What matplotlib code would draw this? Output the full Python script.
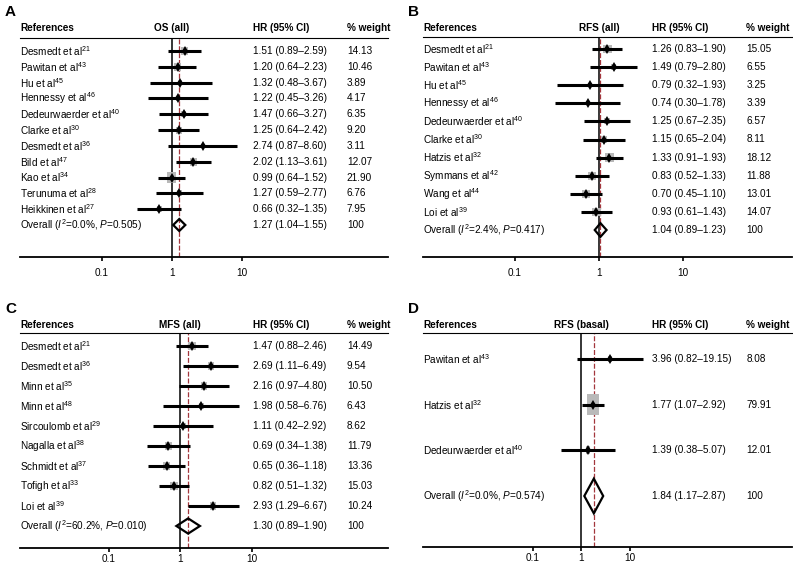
import matplotlib
matplotlib.use("Agg")
import matplotlib.pyplot as plt
import matplotlib.transforms as mtransforms
from matplotlib.patches import Rectangle, Polygon
import numpy as np

plt.rcParams["font.family"] = ["Liberation Sans", "DejaVu Sans"]
plt.rcParams["mathtext.fontset"] = "custom"
plt.rcParams["mathtext.rm"] = "Liberation Sans"
plt.rcParams["mathtext.it"] = "Liberation Sans:italic"
plt.rcParams["mathtext.bf"] = "Liberation Sans:bold"

# ---- data ----
# A: OS (all)
os_authors = ["Desmedt", "Pawitan", "Hu", "Hennessy", "Dedeurwaerder", "Clarke",
              "Desmedt", "Bild", "Kao", "Terunuma", "Heikkinen"]
os_refs = ["21", "43", "45", "46", "40", "30", "36", "47", "34", "28", "27"]
os_hr = [1.51, 1.20, 1.32, 1.22, 1.47, 1.25, 2.74, 2.02, 0.99, 1.27, 0.66]
os_lo = [0.89, 0.64, 0.48, 0.45, 0.66, 0.64, 0.87, 1.13, 0.64, 0.59, 0.32]
os_hi = [2.59, 2.23, 3.67, 3.26, 3.27, 2.42, 8.60, 3.61, 1.52, 2.77, 1.35]
os_w = [14.13, 10.46, 3.89, 4.17, 6.35, 9.20, 3.11, 12.07, 21.90, 6.76, 7.95]
os_overall = (1.27, 1.04, 1.55, "0.0", "0.505")

# B: RFS (all)
rfs_authors = ["Desmedt", "Pawitan", "Hu", "Hennessy", "Dedeurwaerder", "Clarke",
               "Hatzis", "Symmans", "Wang", "Loi"]
rfs_refs = ["21", "43", "45", "46", "40", "30", "32", "42", "44", "39"]
rfs_hr = [1.26, 1.49, 0.79, 0.74, 1.25, 1.15, 1.33, 0.83, 0.70, 0.93]
rfs_lo = [0.83, 0.79, 0.32, 0.30, 0.67, 0.65, 0.91, 0.52, 0.45, 0.61]
rfs_hi = [1.90, 2.80, 1.93, 1.78, 2.35, 2.04, 1.93, 1.33, 1.10, 1.43]
rfs_w = [15.05, 6.55, 3.25, 3.39, 6.57, 8.11, 18.12, 11.88, 13.01, 14.07]
rfs_overall = (1.04, 0.89, 1.23, "2.4", "0.417")

# C: MFS (all)
mfs_authors = ["Desmedt", "Desmedt", "Minn", "Minn", "Sircoulomb", "Nagalla",
               "Schmidt", "Tofigh", "Loi"]
mfs_refs = ["21", "36", "35", "48", "29", "38", "37", "33", "39"]
mfs_hr = [1.47, 2.69, 2.16, 1.98, 1.11, 0.69, 0.65, 0.82, 2.93]
mfs_lo = [0.88, 1.11, 0.97, 0.58, 0.42, 0.34, 0.36, 0.51, 1.29]
mfs_hi = [2.46, 6.49, 4.80, 6.76, 2.92, 1.38, 1.18, 1.32, 6.67]
mfs_w = [14.49, 9.54, 10.50, 6.43, 8.62, 11.79, 13.36, 15.03, 10.24]
mfs_overall = (1.30, 0.89, 1.90, "60.2", "0.010")

# D: RFS (basal)
basal_authors = ["Pawitan", "Hatzis", "Dedeurwaerder"]
basal_refs = ["43", "32", "40"]
basal_hr = [3.96, 1.77, 1.39]
basal_lo = [0.82, 1.07, 0.38]
basal_hi = [19.15, 2.92, 5.07]
basal_w = [8.08, 79.91, 12.01]
basal_overall = (1.84, 1.17, 2.87, "0.0", "0.574")

W, H = 793, 566
FS = 7.2
GREY = "#b9b9b9"
RED = "#a3363c"

fig = plt.figure(figsize=(W / 100, H / 100), dpi=100)
fig.patch.set_facecolor("white")


def forest(letter, title, authors, refs, hr, lo, hi, w, overall,
           left, right, top, bottom, first_px, last_px, header_px,
           one_px, decade_px, cols, tick_pad):
    ax = fig.add_axes([left / W, 1 - bottom / H, (right - left) / W, (bottom - top) / H])
    n = len(hr) + 1
    s = (last_px - first_px) / (n - 1)
    ax.set_ylim(1 + (bottom - first_px) / s, 1 - (first_px - top) / s)
    ax.set_xscale("log")
    ax.set_xlim(10 ** ((left - one_px) / decade_px), 10 ** ((right - one_px) / decade_px))
    for side in ["left", "right"]:
        ax.spines[side].set_visible(False)
    ax.spines["top"].set_linewidth(0.8)
    ax.spines["bottom"].set_linewidth(1.3)
    ax.set_yticks([])
    ax.set_xticks([0.1, 1, 10])
    ax.set_xticklabels(["0.1", "1", "10"])
    ax.xaxis.set_minor_locator(matplotlib.ticker.NullLocator())
    ax.tick_params(axis="x", length=3, width=1.2, pad=tick_pad, labelsize=FS)

    trans = mtransforms.blended_transform_factory(ax.transAxes, ax.transData)
    ys = np.arange(1, n + 1)
    header_y = 1 - (first_px - header_px) / s

    ax.axvline(1, color="black", lw=1.1, zorder=1)
    ax.axvline(overall[0], color=RED, lw=0.9, ls=(0, (4, 1.5)), zorder=1)

    # header
    ax.text(0, header_y, "References", transform=trans, fontsize=FS, fontweight="bold",
            va="center", ha="left", clip_on=False)
    ax.text(1, header_y, title, fontsize=FS, fontweight="bold",
            va="center", ha="center", clip_on=False)
    ax.text(cols[0], header_y, "HR (95% CI)", transform=trans, fontsize=FS,
            fontweight="bold", va="center", ha="left", clip_on=False)
    ax.text(cols[1], header_y, "% weight", transform=trans, fontsize=FS,
            fontweight="bold", va="center", ha="left", clip_on=False)

    for i in range(len(hr)):
        y = ys[i]
        half_w = 0.0135 * np.sqrt(w[i])
        hgt = 2.3 * np.sqrt(w[i]) / s
        ax.add_patch(Rectangle((hr[i] / 10 ** half_w, y - hgt / 2),
                               hr[i] * 10 ** half_w - hr[i] / 10 ** half_w, hgt,
                               facecolor=GREY, edgecolor="none", zorder=2))
        ax.hlines(y, lo[i], hi[i], color="black", lw=2.2, zorder=3)
        ax.plot(hr[i], y, marker="d", ms=5, mew=0, color="black", zorder=4)
        ax.text(0, y, f"{authors[i]} et al$^{{{refs[i]}}}$", transform=trans,
                fontsize=FS, va="center", ha="left")
        ax.text(cols[0], y, f"{hr[i]:.2f} ({lo[i]:.2f}\u2013{hi[i]:.2f})",
                transform=trans, fontsize=FS, va="center", ha="left")
        ax.text(cols[1], y, f"{w[i]:.2f}", transform=trans, fontsize=FS,
                va="center", ha="left")

    # overall diamond
    yo = ys[-1]
    est, olo, ohi, i2, p = overall
    dh = 0.38
    ax.add_patch(Polygon([(olo, yo), (est, yo - dh), (ohi, yo), (est, yo + dh)],
                         closed=True, fill=False, edgecolor="black", lw=1.6, zorder=4))
    ax.text(0, yo, f"Overall ($I^2$={i2}%, $P$={p})", transform=trans,
            fontsize=FS, va="center", ha="left")
    ax.text(cols[0], yo, f"{est:.2f} ({olo:.2f}\u2013{ohi:.2f})", transform=trans,
            fontsize=FS, va="center", ha="left")
    ax.text(cols[1], yo, "100", transform=trans, fontsize=FS, va="center", ha="left")

    fig.text((left - 15) / W, 1 - (header_px - 16) / H, letter, fontsize=11,
             fontweight="bold", va="center", ha="left")
    return ax


forest("A", "OS (all)", os_authors, os_refs, os_hr, os_lo, os_hi, os_w, os_overall,
       20, 388, 38, 257, 51, 225, 28, 172, 70, (0.633, 0.888), 5)
forest("B", "RFS (all)", rfs_authors, rfs_refs, rfs_hr, rfs_lo, rfs_hi, rfs_w, rfs_overall,
       423, 792, 37, 257, 49, 230, 28, 599, 84, (0.621, 0.876), 5)
forest("C", "MFS (all)", mfs_authors, mfs_refs, mfs_hr, mfs_lo, mfs_hi, mfs_w, mfs_overall,
       20, 388, 333, 548, 346, 526, 325, 180, 71.5, (0.633, 0.888), 1.5)
forest("D", "RFS (basal)", basal_authors, basal_refs, basal_hr, basal_lo, basal_hi,
       basal_w, basal_overall,
       423, 792, 333, 547, 359, 496, 325, 581, 48.5, (0.621, 0.876), 1.5)

fig.savefig("out.png", dpi=100, facecolor="white")
